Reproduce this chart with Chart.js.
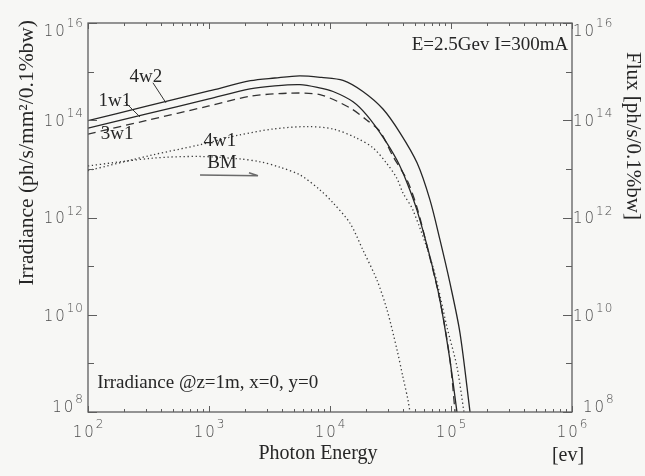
<!DOCTYPE html>
<html>
<head>
<meta charset="utf-8">
<script src="https://cdn.jsdelivr.net/npm/chart.js@4.4.0/dist/chart.umd.min.js"></script>
<style>
  html, body { margin: 0; padding: 0; background: #f7f7f5; }
  canvas { display: block; }
</style>
</head>
<body>
<canvas id="fluxChart" width="645" height="476"></canvas>
<script>
// photon energy (eV) vs irradiance (ph/s/mm2/0.1%bw)
const energy4w2 = [100, 300, 1000, 2200, 3500, 5600, 8500, 12800, 18700, 27400, 37900, 52400, 67000, 81000, 98000, 118700, 143600];
const irr4w2 = [9.8e13, 1.92e14, 4.0e14, 6.5e14, 7.4e14, 8.2e14, 7.6e14, 6.6e14, 3.9e14, 1.7e14, 5.5e13, 1.33e13, 2.3e12, 3.5e11, 4.5e10, 4.2e9, 1e8];

const energy1w1 = [100, 300, 1000, 2180, 3500, 5650, 8000, 10600, 15500, 20200, 27400, 35800, 43300, 52400, 67000, 81000, 98000, 112000];
const irr1w1 = [6.9e13, 1.33e14, 2.75e14, 4.4e14, 5.1e14, 5.4e14, 4.7e14, 3.9e14, 2.4e14, 1.26e14, 4.5e13, 1.5e13, 5.2e12, 1.4e12, 1.55e11, 2.0e10, 1.17e9, 1e8];

const energy3w1 = [100, 300, 1000, 2180, 4500, 8260, 14600, 20200, 25900, 33200, 43300, 52400, 63500, 81000, 98000, 108000];
const irr3w1 = [5.2e13, 9.8e13, 1.97e14, 3.1e14, 3.6e14, 3.35e14, 1.8e14, 1.0e14, 5.9e13, 1.8e13, 5.9e12, 1.6e12, 2.5e11, 2.0e10, 1.2e9, 1e8];

const energy4w1 = [100, 343, 826, 1800, 3380, 6400, 10600, 16600, 22700, 29400, 35600, 40100, 48600, 71000, 92600, 112000, 128000];
const irr4w1 = [9.2e12, 1.94e13, 3.1e13, 5.0e13, 6.6e13, 7.4e13, 6.6e13, 4.3e13, 2.7e13, 1.3e13, 6.5e12, 3.2e12, 1.4e12, 9.6e10, 5.6e9, 8.5e8, 1e8];

const energyBM = [100, 343, 826, 1800, 2640, 3860, 5650, 8260, 10600, 14600, 18700, 24400, 29600, 35800, 40100, 44100, 45800];
const irrBM = [1.15e13, 1.66e13, 1.8e13, 1.6e13, 1.4e13, 1.08e13, 7.5e12, 3.7e12, 2.0e12, 7.7e11, 2.15e11, 5.2e10, 1.26e10, 1.9e9, 5.2e8, 1.77e8, 1e8];

// axis decades (powers of ten) and which of them carry a label
const xDecades = [2, 3, 4, 5, 6];
const yDecades = [8, 9, 10, 11, 12, 13, 14, 15, 16];
const yLabelDecades = [8, 10, 12, 14, 16];

// curve names and where they sit on the plot (energy, irradiance)
const curveNames = ['4w2', '1w1', '3w1', '4w1', 'BM'];
const curveNameAt = [[301, 7.8e14], [167, 2.5e14], [174, 5.2e13], [1230, 3.8e13], [1280, 1.32e13]];
const leaderLines = [
  [[344, 5.9e14], [441, 2.28e14]],
  [[202, 2.37e14], [269, 1.17e14]]
];
const bmArrow = [[843, 7.5e12], [2540, 7.2e12]];

const toPoints = (xs, ys) => xs.map((v, i) => ({ x: v, y: ys[i] }));

const serif = '"Liberation Serif", "Times New Roman", serif';
const tickFont = '"DejaVu Sans", sans-serif';

function spacedWidth(ctx, s, sp) {
  let w = 0;
  for (const c of s) w += ctx.measureText(c).width;
  return w + sp * (s.length - 1);
}
function drawSpaced(ctx, s, x, y, sp) {
  for (const c of s) {
    ctx.fillText(c, x, y);
    x += ctx.measureText(c).width + sp;
  }
}
// "10" with a raised exponent
function drawPower(ctx, exp, px, py, align) {
  const e = String(exp);
  ctx.font = '300 15px ' + tickFont;
  const wb = spacedWidth(ctx, '10', 2);
  ctx.font = '300 12px ' + tickFont;
  const we = spacedWidth(ctx, e, 1);
  const gap = 2;
  const total = wb + gap + we;
  let x0 = px;
  if (align === 'right') x0 = px - total;
  if (align === 'center') x0 = px - total / 2;
  ctx.font = '300 15px ' + tickFont;
  drawSpaced(ctx, '10', x0, py, 2);
  ctx.font = '300 12px ' + tickFont;
  drawSpaced(ctx, e, x0 + wb + gap, py - 8, 1);
}

const decorPlugin = {
  id: 'decor',
  afterDatasetsDraw(chart) {
    const { ctx, chartArea: a, scales } = chart;
    const x = scales.x, y = scales.y;
    ctx.save();

    // frame
    ctx.strokeStyle = '#5e5e5e';
    ctx.lineWidth = 1.3;
    ctx.strokeRect(a.left, a.top, a.right - a.left, a.bottom - a.top);

    // inward tick marks
    ctx.lineWidth = 1;
    ctx.beginPath();
    xDecades.forEach((d, i) => {
      const mults = i < xDecades.length - 1 ? [1, 2, 3, 4, 5, 6, 7, 8, 9] : [1];
      mults.forEach(m => {
        const px = Math.round(x.getPixelForValue(m * Math.pow(10, d))) + 0.5;
        const len = m === 1 ? 6 : 3;
        ctx.moveTo(px, a.bottom); ctx.lineTo(px, a.bottom - len);
        ctx.moveTo(px, a.top); ctx.lineTo(px, a.top + len);
      });
    });
    yDecades.forEach(d => {
      const py = Math.round(y.getPixelForValue(Math.pow(10, d))) + 0.5;
      const len = yLabelDecades.includes(d) ? 9 : 6;
      ctx.moveTo(a.left, py); ctx.lineTo(a.left + len, py);
      ctx.moveTo(a.right, py); ctx.lineTo(a.right - len, py);
    });
    ctx.stroke();

    // tick labels
    ctx.fillStyle = '#4e4e4e';
    ctx.textBaseline = 'middle';
    ctx.textAlign = 'left';
    xDecades.forEach(d => {
      const px = x.getPixelForValue(Math.pow(10, d));
      drawPower(ctx, d, px, a.bottom + 21, 'center');
    });
    yLabelDecades.forEach(d => {
      const py = y.getPixelForValue(Math.pow(10, d));
      const cy = Math.min(Math.max(py + 2, a.top + 9), a.bottom - 4);
      drawPower(ctx, d, a.left - 5, cy, 'right');
      drawPower(ctx, d, a.right + 1 + (d === yDecades[0] ? 10 : 0), cy, 'left');
    });

    // curve names
    ctx.fillStyle = '#262626';
    ctx.font = '19px ' + serif;
    ctx.textAlign = 'center';
    curveNames.forEach((name, i) => {
      const [ex, iy] = curveNameAt[i];
      ctx.fillText(name, x.getPixelForValue(ex), y.getPixelForValue(iy));
    });

    ctx.strokeStyle = '#333';
    ctx.lineWidth = 1;
    ctx.beginPath();
    leaderLines.forEach(([p, q]) => {
      ctx.moveTo(x.getPixelForValue(p[0]), y.getPixelForValue(p[1]));
      ctx.lineTo(x.getPixelForValue(q[0]), y.getPixelForValue(q[1]));
    });
    ctx.stroke();

    // arrow under BM
    const ax1 = x.getPixelForValue(bmArrow[0][0]), ay1 = y.getPixelForValue(bmArrow[0][1]);
    const ax2 = x.getPixelForValue(bmArrow[1][0]), ay2 = y.getPixelForValue(bmArrow[1][1]);
    ctx.strokeStyle = '#6a6a6a';
    ctx.lineWidth = 1.6;
    ctx.beginPath();
    ctx.moveTo(ax1, ay1); ctx.lineTo(ax2, ay2);
    ctx.moveTo(ax2 - 9, ay2 - 3); ctx.lineTo(ax2, ay2);
    ctx.stroke();

    // notes inside the plot
    ctx.fillStyle = '#262626';
    ctx.font = '19px ' + serif;
    ctx.textAlign = 'right';
    ctx.fillText('E=2.5Gev I=300mA', x.getPixelForValue(9.3e5), y.getPixelForValue(3.55e15));
    ctx.textAlign = 'left';
    ctx.fillText('Irradiance @z=1m, x=0, y=0', x.getPixelForValue(119), y.getPixelForValue(3.95e8));

    // axis titles
    ctx.font = '20px ' + serif;
    ctx.textAlign = 'center';
    ctx.fillText('Photon Energy', (a.left + a.right) / 2 - 12, a.bottom + 42);
    ctx.fillText('[ev]', a.right - 4, a.bottom + 44);

    ctx.font = '21.5px ' + serif;
    ctx.save();
    ctx.translate(a.left - 61, a.top - 3);
    ctx.rotate(-Math.PI / 2);
    ctx.textAlign = 'right';
    ctx.fillText('Irradiance (ph/s/mm\u00b2/0.1%bw)', 0, 0);
    ctx.restore();

    ctx.font = '21px ' + serif;
    ctx.save();
    ctx.translate(a.right + 61, a.top + 29);
    ctx.rotate(Math.PI / 2);
    ctx.textAlign = 'left';
    ctx.fillText('Flux [ph/s/0.1%bw]', 0, 0);
    ctx.restore();

    ctx.restore();
  }
};

const solid = { borderColor: '#262626', borderWidth: 1.3 };
const dotted = { borderColor: '#3a3a3a', borderWidth: 1.3, borderDash: [1.3, 2.7] };

new Chart(document.getElementById('fluxChart'), {
  type: 'line',
  data: {
    datasets: [
      { label: '4w2', data: toPoints(energy4w2, irr4w2), ...solid },
      { label: '1w1', data: toPoints(energy1w1, irr1w1), ...solid },
      { label: '3w1', data: toPoints(energy3w1, irr3w1), borderColor: '#333', borderWidth: 1.3, borderDash: [8, 5] },
      { label: '4w1', data: toPoints(energy4w1, irr4w1), ...dotted },
      { label: 'BM', data: toPoints(energyBM, irrBM), ...dotted }
    ]
  },
  options: {
    responsive: false,
    animation: false,
    elements: {
      point: { radius: 0 },
      line: { tension: 0.3, fill: false }
    },
    layout: { padding: { top: 23, left: 0, right: 0, bottom: 0 } },
    plugins: { legend: { display: false }, tooltip: { enabled: false } },
    scales: {
      x: {
        type: 'logarithmic', min: 100, max: 1e6,
        ticks: { display: false }, grid: { display: false }, border: { display: false },
        afterFit: s => { s.height = 64; }
      },
      y: {
        type: 'logarithmic', position: 'left', min: 1e8, max: 1e16,
        ticks: { display: false }, grid: { display: false }, border: { display: false },
        afterFit: s => { s.width = 88; }
      },
      y2: {
        type: 'logarithmic', position: 'right', min: 1e8, max: 1e16,
        ticks: { display: false }, grid: { display: false }, border: { display: false },
        afterFit: s => { s.width = 73; }
      }
    }
  },
  plugins: [decorPlugin]
});
</script>
</body>
</html>
